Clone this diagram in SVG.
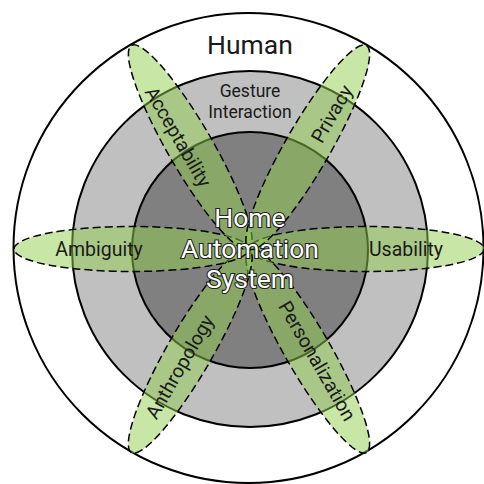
<svg xmlns="http://www.w3.org/2000/svg" width="484" height="484" viewBox="0 0 484 484">
<style>
.ring{stroke:#000;stroke-width:2}
.petal{fill:#92d050;fill-opacity:0.5;stroke:#000;stroke-width:1.5;stroke-dasharray:8 4}
.lbl{font-family:Roboto,"Liberation Sans",sans-serif;fill:#1a1a1a;text-anchor:middle;dominant-baseline:central}
.pl{font-size:19.5px}
.core{font-family:Roboto,"Liberation Sans",sans-serif;font-size:26.5px;fill:#fff;stroke:#222;stroke-width:2.2;paint-order:stroke;text-anchor:middle}
</style>
<rect width="484" height="484" fill="#fff"/>
<g id="human"><circle class="ring" cx="248.5" cy="248" r="235" fill="#fff"/></g>
<g id="gesture"><circle class="ring" cx="250" cy="249" r="178" fill="#c0c0c0"/></g>
<g id="system"><circle class="ring" cx="250" cy="250" r="118" fill="#808080"/></g>
<g id="petals" transform="translate(249,249)">
<g id="usability"><ellipse class="petal" cx="117.5" cy="0" rx="117.5" ry="22.5"/></g>
<g id="personalization"><ellipse class="petal" cx="117.5" cy="0" rx="117.5" ry="22.5" transform="rotate(60)"/></g>
<g id="anthropology"><ellipse class="petal" cx="117.5" cy="0" rx="117.5" ry="22.5" transform="rotate(120)"/></g>
<g id="ambiguity"><ellipse class="petal" cx="117.5" cy="0" rx="117.5" ry="22.5" transform="rotate(180)"/></g>
<g id="acceptability"><ellipse class="petal" cx="117.5" cy="0" rx="117.5" ry="22.5" transform="rotate(240)"/></g>
<g id="privacy"><ellipse class="petal" cx="117.5" cy="0" rx="117.5" ry="22.5" transform="rotate(300)"/></g>
</g>
<g id="labels">
<text class="lbl" x="250" y="44" font-size="26.5">Human</text>
<text class="lbl" x="250" y="91" font-size="17.5" fill="#333">Gesture</text>
<text class="lbl" x="250" y="112" font-size="17.5" fill="#333">Interaction</text>
<text class="lbl pl" x="99" y="249">Ambiguity</text>
<text class="lbl pl" x="406" y="249">Usability</text>
<text class="lbl pl" transform="translate(178,137) rotate(60)">Acceptability</text>
<text class="lbl pl" transform="translate(332,114) rotate(-60)">Privacy</text>
<text class="lbl pl" transform="translate(180,367) rotate(-60)">Anthropology</text>
<text class="lbl pl" transform="translate(317,361) rotate(60)">Personalization</text>
<text class="core" x="250" y="227">Home</text>
<text class="core" x="250" y="258">Automation</text>
<text class="core" x="250" y="288">System</text>
</g>
</svg>
